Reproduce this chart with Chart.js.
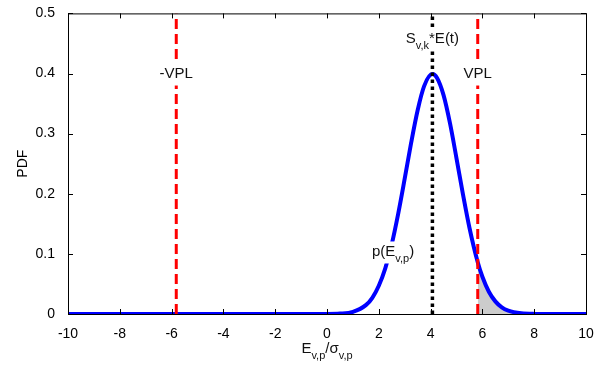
<!DOCTYPE html>
<html lang="en">
<head>
    <meta charset="UTF-8">
    <title>PDF with VPL bounds</title>
    <style>
        body {
            margin: 0;
            background-color: #fff;
        }
        canvas {
            display: block;
        }
    </style>
    <script src="https://cdn.jsdelivr.net/npm/chart.js"></script>
</head>
<body>

<canvas id="pdfChart" width="611" height="366"></canvas>

<script>
// Values
const xVals = [-10, 0, 0.5, 1, 1.5, 1.75, 2, 2.25, 2.5, 2.75, 3, 3.25, 3.5, 3.75, 4.07, 4.25, 4.5, 4.75, 5, 5.25, 5.5, 5.82, 6, 6.25, 6.5, 6.75, 7, 7.5, 8, 10];
const pdfVals = [0, 0.0001, 0.0007, 0.0036, 0.0147, 0.027, 0.047, 0.076, 0.116, 0.167, 0.225, 0.285, 0.339, 0.379, 0.399, 0.3925, 0.364, 0.317, 0.259, 0.199, 0.1435, 0.086, 0.062, 0.037, 0.021, 0.011, 0.0055, 0.0011, 0.0002, 0];
const vplValue = 5.82;
const meanValue = 4.07;
const xTicks = [-10, -8, -6, -4, -2, 0, 2, 4, 6, 8, 10];
const yTicks = [0, 0.1, 0.2, 0.3, 0.4, 0.5];

const FONT = "'Liberation Sans', Arial, sans-serif";

const curve = xVals.map((x, i) => ({ x: x, y: pdfVals[i] }));
const tail = curve.filter(p => p.x >= vplValue && p.x <= 8);

function vline(x) {
    return [{ x: x, y: 0 }, { x: x, y: 0.5 }];
}

// draw a label made of normal + subscript parts, centred at (cx, cy)
function drawRich(ctx, parts, cx, cy, withBox) {
    const big = '15px ' + FONT;
    const small = '11px ' + FONT;
    let width = 0;
    parts.forEach(p => {
        ctx.font = p.sub ? small : big;
        p.w = ctx.measureText(p.t).width;
        width += p.w;
    });
    let x = cx - width / 2;
    if (withBox) {
        ctx.fillStyle = '#fff';
        ctx.fillRect(x - 2, cy - 10, width + 4, 22);
    }
    ctx.fillStyle = '#111';
    ctx.textBaseline = 'middle';
    ctx.textAlign = 'left';
    parts.forEach(p => {
        ctx.font = p.sub ? small : big;
        ctx.fillText(p.t, x, p.sub ? cy + 7 : cy);
        x += p.w;
    });
}

const framePlugin = {
    id: 'frame',
    afterDatasetsDraw(chart) {
        const { ctx, chartArea: a, scales: { x, y } } = chart;
        ctx.save();

        // text labels with white boxes
        drawRich(ctx, [{ t: '-VPL' }], x.getPixelForValue(-vplValue), y.getPixelForValue(0.4), true);
        drawRich(ctx, [{ t: 'VPL' }], x.getPixelForValue(vplValue), y.getPixelForValue(0.4), true);
        drawRich(ctx, [{ t: 'S' }, { t: 'v,k', sub: true }, { t: '*E(t)' }], x.getPixelForValue(meanValue), y.getPixelForValue(0.458), true);
        drawRich(ctx, [{ t: 'p(E' }, { t: 'v,p', sub: true }, { t: ')' }], x.getPixelForValue(2.55), y.getPixelForValue(0.104), true);

        // box and inward ticks
        ctx.strokeStyle = '#000';
        ctx.lineWidth = 1;
        ctx.strokeRect(a.left + 0.5, a.top + 0.5, a.right - a.left, a.bottom - a.top);
        ctx.beginPath();
        xTicks.forEach(v => {
            const px = Math.round(x.getPixelForValue(v)) + 0.5;
            ctx.moveTo(px, a.bottom);
            ctx.lineTo(px, a.bottom - 5);
            ctx.moveTo(px, a.top);
            ctx.lineTo(px, a.top + 5);
        });
        yTicks.forEach(v => {
            const py = Math.round(y.getPixelForValue(v)) + 0.5;
            ctx.moveTo(a.left, py);
            ctx.lineTo(a.left + 5, py);
            ctx.moveTo(a.right, py);
            ctx.lineTo(a.right - 5, py);
        });
        ctx.stroke();

        // x axis title with subscripts
        const parts = [{ t: 'E' }, { t: 'v,p', sub: true }, { t: '/σ' }, { t: 'v,p', sub: true }];
        drawRich(ctx, parts, (a.left + a.right) / 2, 349, false);
        ctx.restore();
    }
};

const ctx = document.getElementById('pdfChart').getContext('2d');
const pdfChart = new Chart(ctx, {
    type: 'line',
    data: {
        datasets: [
            {
                // -VPL
                data: vline(-vplValue),
                borderColor: '#ff0000',
                borderWidth: 3,
                borderDash: [10, 5],
                pointRadius: 0
            },
            {
                // VPL
                data: vline(vplValue),
                borderColor: '#ff0000',
                borderWidth: 3,
                borderDash: [10, 5],
                pointRadius: 0
            },
            {
                // mean
                data: vline(meanValue),
                borderColor: '#000000',
                borderWidth: 3.5,
                borderDash: [3.5, 3.5],
                pointRadius: 0
            },
            {
                label: 'p(E)',
                data: curve,
                borderColor: '#0000ff',
                borderWidth: 4,
                pointRadius: 0,
                cubicInterpolationMode: 'monotone'
            },
            {
                // shaded tail beyond VPL
                data: tail,
                borderColor: '#777',
                borderWidth: 1,
                backgroundColor: '#cccccc',
                fill: 'origin',
                pointRadius: 0,
                cubicInterpolationMode: 'monotone'
            }
        ]
    },
    options: {
        responsive: false,
        animation: false,
        layout: {
            padding: { left: 0, right: 25, top: 13, bottom: 0 }
        },
        plugins: {
            legend: { display: false },
            tooltip: { enabled: false }
        },
        scales: {
            x: {
                type: 'linear',
                min: -10,
                max: 10,
                afterBuildTicks: s => { s.ticks = xTicks.map(v => ({ value: v })); },
                afterFit: s => { s.height = 52; },
                grid: { display: false },
                border: { display: false },
                ticks: {
                    color: '#000',
                    padding: 4,
                    maxRotation: 0,
                    font: { family: FONT, size: 14 }
                }
            },
            y: {
                min: 0,
                max: 0.5,
                afterBuildTicks: s => { s.ticks = yTicks.map(v => ({ value: v })); },
                afterFit: s => { s.width = 68; },
                grid: { display: false },
                border: { display: false },
                ticks: {
                    color: '#000',
                    padding: 5,
                    font: { family: FONT, size: 14 },
                    callback: v => String(+v.toFixed(1))
                },
                title: {
                    display: true,
                    text: 'PDF',
                    color: '#000',
                    padding: { top: 14.5, bottom: 0 },
                    font: { family: FONT, size: 14 }
                }
            }
        }
    },
    plugins: [framePlugin]
});
</script>

</body>
</html>
